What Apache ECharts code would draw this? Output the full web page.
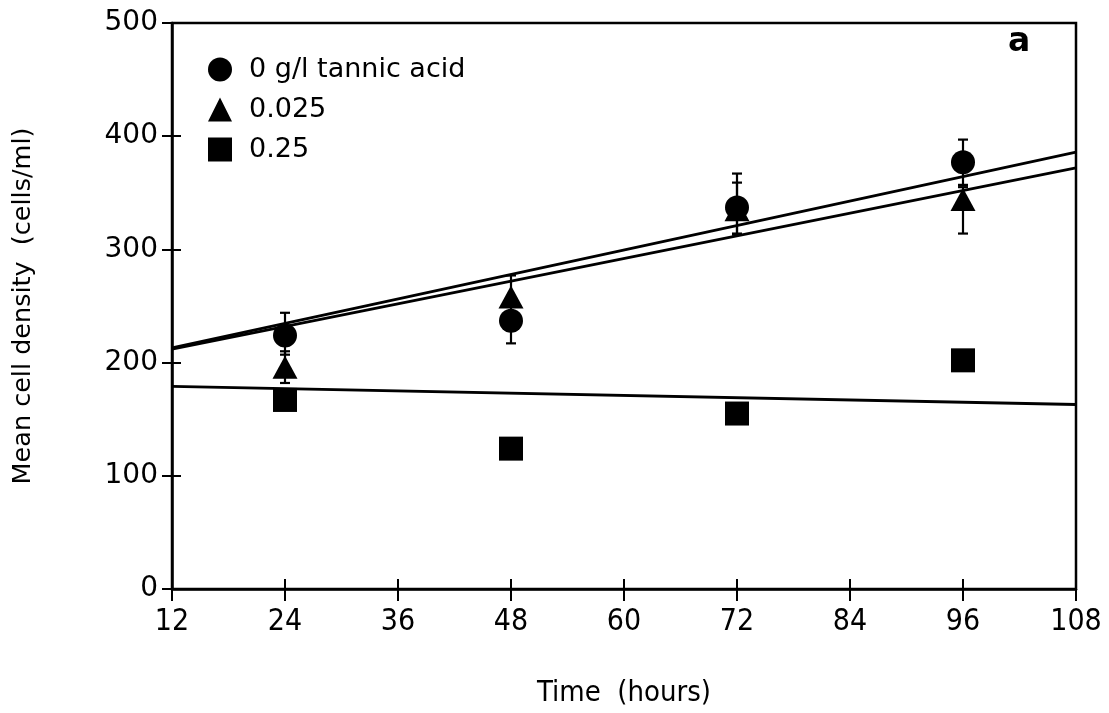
<!DOCTYPE html>
<html>
<head>
<meta charset="utf-8">
<script src="https://cdn.jsdelivr.net/npm/echarts@6/dist/echarts.min.js"></script>
<style>
  html, body { margin: 0; padding: 0; background: #fff; }
  #chart { width: 1109px; height: 713px; }
</style>
</head>
<body>
<div id="chart"></div>
<script>
  // data
  var hours = [24, 48, 72, 96];
  var xTicks = [12, 24, 36, 48, 60, 72, 84, 96, 108];

  var acid0 = [224, 237, 337, 377];
  var acid0Low = [207, 217, 314, 357];
  var acid0High = [244, 257, 367, 397];

  var acid025 = [196, 258, 335, 344];
  var acid025Low = [182, 250, 313, 314];
  var acid025High = [210, 277, 359, 355];

  var acid25 = [167, 124, 155, 202];

  // fitted lines, end values at x = 12 and x = 108
  var fitX = [12, 108];
  var fit0 = [213, 386];
  var fit025 = [212, 372];
  var fit25 = [179, 163];

  var names = ["0 g/l tannic acid", "0.025", "0.25"];

  var chart = echarts.init(document.getElementById("chart"));

  function pts(xs, ys) {
    return xs.map(function (x, i) { return [x, ys[i]]; });
  }

  function errData(lo, hi) {
    return hours.map(function (x, i) { return [x, lo[i], hi[i]]; });
  }

  function errorBars(lo, hi) {
    return {
      type: "custom",
      silent: true,
      z: 3,
      data: errData(lo, hi),
      renderItem: function (params, api) {
        var x = api.value(0);
        var top = api.coord([x, api.value(2)]);
        var bot = api.coord([x, api.value(1)]);
        var w = 5;
        var style = { stroke: "#000", lineWidth: 2.2 };
        return {
          type: "group",
          children: [
            { type: "line", shape: { x1: top[0], y1: top[1], x2: bot[0], y2: bot[1] }, style: style },
            { type: "line", shape: { x1: top[0] - w, y1: top[1], x2: top[0] + w, y2: top[1] }, style: style },
            { type: "line", shape: { x1: bot[0] - w, y1: bot[1], x2: bot[0] + w, y2: bot[1] }, style: style }
          ]
        };
      }
    };
  }

  function fitLine(ys) {
    return {
      type: "line",
      data: pts(fitX, ys),
      symbol: "none",
      silent: true,
      z: 2,
      lineStyle: { color: "#000", width: 2.8 }
    };
  }

  var wideFont = "DejaVu Sans";
  var narrowFont = "DejaVu Sans Condensed, Liberation Sans";

  chart.setOption({
    animation: false,
    backgroundColor: "#fff",
    grid: {
      left: 172, right: 33, top: 23, bottom: 124,
      show: true, borderColor: "#000", borderWidth: 2.5
    },
    legend: {
      data: names,
      orient: "vertical",
      left: 203,
      top: 51,
      itemWidth: 24,
      itemHeight: 24,
      itemGap: 13,
      textStyle: { color: "#000", fontSize: 27, fontFamily: wideFont, padding: [0, 0, 0, 12] }
    },
    graphic: [
      {
        type: "text", left: 1008, top: 26,
        style: { text: "a", fill: "#000", fontSize: 33, fontWeight: "bold", fontFamily: "DejaVu Sans" }
      }
    ],
    xAxis: [
      {
        type: "value", min: 12, max: 108, interval: 12,
        name: "Time  (hours)", nameLocation: "middle", nameGap: 90,
        nameTextStyle: { color: "#000", fontSize: 29, fontFamily: narrowFont },
        axisLine: { onZero: false, lineStyle: { color: "#000", width: 2.5 } },
        axisTick: { length: 12, lineStyle: { color: "#000", width: 2 } },
        axisLabel: { color: "#000", fontSize: 30, fontFamily: narrowFont, margin: 18 },
        splitLine: { show: false }
      },
      {
        type: "value", min: 12, max: 108, interval: 12, position: "bottom",
        axisLine: { show: false },
        axisTick: { inside: true, length: 10, lineStyle: { color: "#000", width: 2 } },
        axisLabel: { show: false },
        splitLine: { show: false }
      }
    ],
    yAxis: [
      {
        type: "value", min: 0, max: 500, interval: 100,
        name: "Mean cell density  (cells/ml)", nameLocation: "middle", nameGap: 136,
        nameTextStyle: { color: "#000", fontSize: 25.5, fontFamily: wideFont },
        axisLine: { onZero: false, lineStyle: { color: "#000", width: 2.5 } },
        axisTick: { length: 10, lineStyle: { color: "#000", width: 2 } },
        axisLabel: { color: "#000", fontSize: 28, fontFamily: wideFont, margin: 14 },
        splitLine: { show: false }
      },
      {
        type: "value", min: 0, max: 500, interval: 100, position: "left",
        axisLine: { show: false },
        axisTick: { inside: true, length: 9, lineStyle: { color: "#000", width: 2 } },
        axisLabel: { show: false },
        splitLine: { show: false }
      }
    ],
    series: [
      fitLine(fit0),
      fitLine(fit025),
      fitLine(fit25),
      errorBars(acid0Low, acid0High),
      errorBars(acid025Low, acid025High),
      {
        name: names[0], type: "scatter", z: 5,
        data: pts(hours, acid0),
        symbol: "circle", symbolSize: 24,
        itemStyle: { color: "#000", opacity: 1 }
      },
      {
        name: names[1], type: "scatter", z: 4,
        data: pts(hours, acid025),
        symbol: "triangle", symbolSize: [25, 23],
        itemStyle: { color: "#000", opacity: 1 }
      },
      {
        name: names[2], type: "scatter", z: 4,
        data: pts(hours, acid25),
        symbol: "rect", symbolSize: 24,
        itemStyle: { color: "#000", opacity: 1 }
      }
    ]
  });
</script>
</body>
</html>
